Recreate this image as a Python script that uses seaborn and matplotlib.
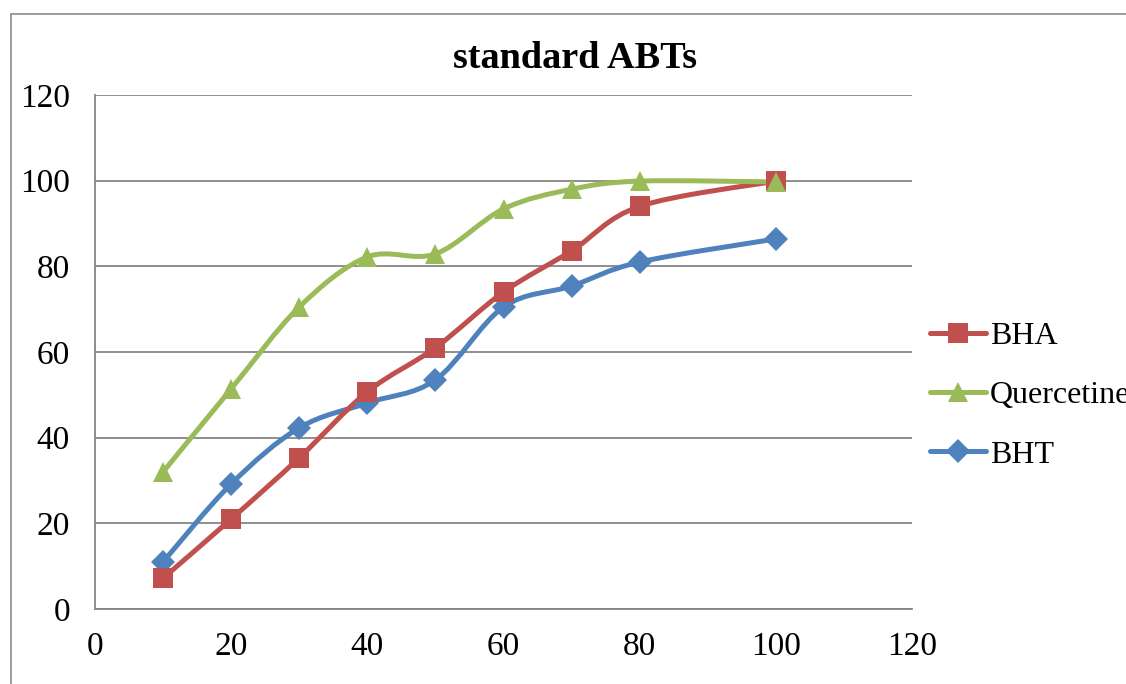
import numpy as np
import pandas as pd
import matplotlib
matplotlib.use("Agg")
import matplotlib.pyplot as plt
import seaborn as sns
from matplotlib.path import Path
from matplotlib.patches import PathPatch, Rectangle
from matplotlib.lines import Line2D

# Concentration values
conc = [10, 20, 30, 40, 50, 60, 70, 80, 100]
bha = [7.2, 21.0, 35.3, 50.7, 61.0, 74.0, 83.6, 94.0, 99.9]
quercetine = [32.0, 51.4, 70.5, 82.2, 82.9, 93.4, 98.0, 99.9, 99.7]
bht = [11.0, 29.2, 42.3, 48.1, 53.5, 70.5, 75.4, 81.0, 86.4]

series_names = ["BHA", "Quercetine", "BHT"]
series_values = [bha, quercetine, bht]
colors = {"BHA": "#C0504D", "Quercetine": "#9BBB59", "BHT": "#4F81BD"}
markers = {"BHA": "s", "Quercetine": "^", "BHT": "D"}
msizes = {"BHA": 14, "Quercetine": 15, "BHT": 12}
LW = 3.6

df = pd.concat(
    [pd.DataFrame({"conc": conc, "value": v, "series": n}) for n, v in zip(series_names, series_values)],
    ignore_index=True,
)

sns.set_theme(style="white")
plt.rcParams["font.family"] = ["Liberation Serif", "DejaVu Serif"]
plt.rcParams["text.color"] = "black"

W, H = 1126, 684
fig = plt.figure(figsize=(W / 100, H / 100), dpi=100)
ax = fig.add_axes([95 / W, 75 / H, (912 - 95) / W, (609 - 95) / H])

# outer chart frame
fig.patches.append(Rectangle((11 / W, -0.1), 1.2, 1 - 14 / H + 0.1, transform=fig.transFigure,
                             fill=False, edgecolor="#8C8C8C", linewidth=1.2, zorder=0))


def smooth_path(xs, ys):
    """Cubic Bezier path through the points (Catmull-Rom style smoothing)."""
    pts = np.column_stack([xs, ys]).astype(float)
    n = len(pts)
    verts = [pts[0]]
    codes = [Path.MOVETO]
    for i in range(n - 1):
        p0 = pts[i - 1] if i > 0 else pts[i]
        p1 = pts[i]
        p2 = pts[i + 1]
        p3 = pts[i + 2] if i + 2 < n else pts[i + 1]
        c1 = p1 + (p2 - p0) / 6.0
        c2 = p2 - (p3 - p1) / 6.0
        verts += [c1, c2, p2]
        codes += [Path.CURVE4] * 3
    return Path(verts, codes)


order = ["BHT", "BHA", "Quercetine"]
for i, name in enumerate(order):
    sub = df[df["series"] == name]
    patch = PathPatch(smooth_path(sub["conc"].values, sub["value"].values), facecolor="none",
                      edgecolor=colors[name], linewidth=LW, capstyle="round", joinstyle="round",
                      zorder=3 + i)
    ax.add_patch(patch)

for i, name in enumerate(order):
    sub = df[df["series"] == name]
    sns.lineplot(data=sub, x="conc", y="value", ax=ax, color=colors[name], linewidth=0,
                 marker=markers[name], markersize=msizes[name], markeredgewidth=0,
                 legend=False, zorder=6 + i)

ax.set_xlim(0, 120)
ax.set_ylim(0, 120)
ax.set_xticks(np.arange(0, 121, 20))
ax.set_yticks(np.arange(0, 121, 20))
ax.set_xlabel("")
ax.set_ylabel("")
ax.grid(axis="y", color="#868686", linewidth=1.3)
ax.grid(axis="x", visible=False)
for side in ["top", "right"]:
    ax.spines[side].set_visible(False)
for side in ["left", "bottom"]:
    ax.spines[side].set_color("#868686")
    ax.spines[side].set_linewidth(1.3)
ax.tick_params(axis="both", which="major", direction="out", length=7, width=1.3,
               color="#868686", labelsize=24, labelcolor="black")
ax.tick_params(axis="x", pad=9)
ax.tick_params(axis="y", pad=11)
ax.set_axisbelow(True)

fig.text(575 / W, 1 - 58 / H, "standard ABTs", ha="center", va="center",
         fontsize=27.5, fontweight="bold", color="black")

handles = [Line2D([0], [0], color=colors[n], linewidth=LW, marker=markers[n],
                  markersize=msizes[n], markeredgewidth=0) for n in series_names]
leg = fig.legend(handles, series_names, loc="upper left", bbox_to_anchor=(930 / W, 1 - 322 / H),
                 frameon=False, fontsize=23, handlelength=1.75, handletextpad=0.12,
                 labelspacing=0.93, borderaxespad=0, borderpad=0)
for t in leg.get_texts():
    t.set_color("black")

fig.savefig("out.png", dpi=100)
